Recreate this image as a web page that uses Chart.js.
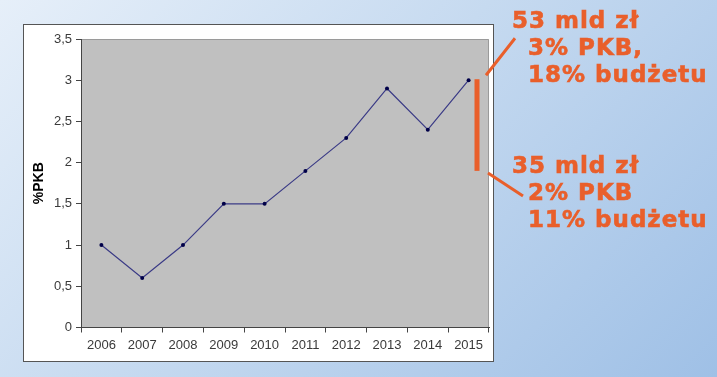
<!DOCTYPE html>
<html>
<head>
<meta charset="utf-8">
<script src="https://cdn.jsdelivr.net/npm/chart.js@4"></script>
<style>
    html, body { margin: 0; padding: 0; }
    body {
        width: 717px; height: 377px; overflow: hidden; position: relative;
        background: linear-gradient(135deg, #e6eff9 0%, #c6daf0 45%, #9fc0e6 100%);
        font-family: "Liberation Sans", Arial, sans-serif;
    }
    #frame {
        position: absolute; left: 23px; top: 24px; width: 469px; height: 336px;
        background: #fff; border: 1px solid #555;
    }
    #wrap { position: absolute; left: 0; top: 0; width: 717px; height: 377px; }
    .note {
        position: absolute; color: #e95f2b;
        font: bold 23px "DejaVu Sans", Verdana, sans-serif;
        letter-spacing: 1px; line-height: 27px; white-space: nowrap;
        -webkit-text-stroke: 0.6px #e95f2b;
    }
    .note span { display: block; }
    .note .ind { padding-left: 16px; }
</style>
</head>
<body>
<div id="frame"></div>
<div id="wrap"><canvas id="chart" width="717" height="377"></canvas></div>

<div class="note" style="left:512px; top:7px;">
    <span>53 mld zł</span>
    <span class="ind">3% PKB,</span>
    <span class="ind">18% budżetu</span>
</div>
<div class="note" style="left:512px; top:152px;">
    <span>35 mld zł</span>
    <span class="ind">2% PKB</span>
    <span class="ind">11% budżetu</span>
</div>

<script>
// ================= DATA =================
const years = ['2006', '2007', '2008', '2009', '2010', '2011', '2012', '2013', '2014', '2015'];
const pkbShare = [1, 0.6, 1, 1.5, 1.5, 1.9, 2.3, 2.9, 2.4, 3];
const yTicks = [0, 0.5, 1, 1.5, 2, 2.5, 3, 3.5];

const ORANGE = '#e95f2b';

// gray plot background + borders
const plotBg = {
    id: 'plotBg',
    beforeDraw(chart) {
        const { ctx, chartArea: a } = chart;
        ctx.save();
        ctx.fillStyle = '#c0c0c0';
        ctx.fillRect(a.left, a.top, a.right - a.left, a.bottom - a.top);
        ctx.strokeStyle = '#9a9a9a';
        ctx.lineWidth = 1;
        ctx.beginPath();
        ctx.moveTo(a.left, a.top + 0.5);
        ctx.lineTo(a.right - 0.5, a.top + 0.5);
        ctx.lineTo(a.right - 0.5, a.bottom);
        ctx.stroke();
        ctx.restore();
    }
};

// orange range bar with connectors to the notes
const rangeBar = {
    id: 'rangeBar',
    afterDraw(chart) {
        const { ctx, chartArea: a } = chart;
        const y = chart.scales.y;
        const x = a.right - 12;
        const top = y.getPixelForValue(3) - 1;
        const bot = y.getPixelForValue(1.9);
        ctx.save();
        ctx.strokeStyle = ORANGE;
        ctx.lineCap = 'butt';
        ctx.lineWidth = 5;
        ctx.beginPath();
        ctx.moveTo(x, top);
        ctx.lineTo(x, bot);
        ctx.stroke();
        ctx.lineWidth = 3;
        ctx.beginPath();
        ctx.moveTo(x + 9, top - 4);
        ctx.lineTo(x + 38, top - 41);
        ctx.moveTo(x + 11, bot + 2);
        ctx.lineTo(x + 46, bot + 25);
        ctx.stroke();
        ctx.restore();
    }
};

const ctx = document.getElementById('chart').getContext('2d');
new Chart(ctx, {
    type: 'line',
    data: {
        labels: years,
        datasets: [{
            data: pkbShare,
            borderColor: '#3b3b86',
            borderWidth: 1.2,
            pointRadius: 2,
            pointBackgroundColor: '#000048',
            pointBorderColor: '#000048',
            pointBorderWidth: 0,
            tension: 0
        }]
    },
    options: {
        responsive: false,
        animation: false,
        layout: { padding: { left: 30, top: 39, right: 228, bottom: 16 } },
        plugins: {
            legend: { display: false },
            tooltip: { enabled: false }
        },
        scales: {
            x: {
                offset: true,
                grid: { offset: true, drawOnChartArea: false, tickLength: 5, color: '#444' },
                border: { color: '#444', width: 1 },
                ticks: { color: '#3a3a3a', font: { size: 13, family: 'Liberation Sans' }, padding: 5, maxRotation: 0 },
                afterFit(s) { s.height = 377 - 16 - 327.5; }
            },
            y: {
                min: 0, max: 3.5,
                afterBuildTicks(s) { s.ticks = yTicks.map(v => ({ value: v })); },
                grid: { drawOnChartArea: false, tickLength: 5, color: '#444' },
                border: { color: '#444', width: 1 },
                ticks: {
                    color: '#3a3a3a', font: { size: 13, family: 'Liberation Sans' }, padding: 4,
                    callback: v => String(v).replace('.', ',')
                },
                title: {
                    display: true, text: '%PKB', color: '#000',
                    font: { size: 14, weight: 'bold', family: 'Liberation Sans' },
                    padding: { top: 1, bottom: 0 }
                },
                afterFit(s) { s.width = 51; }
            }
        }
    },
    plugins: [plotBg, rangeBar]
});
</script>
</body>
</html>
